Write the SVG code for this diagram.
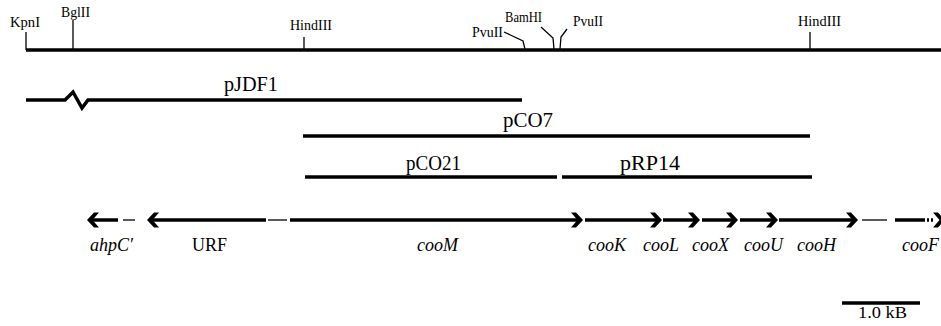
<svg xmlns="http://www.w3.org/2000/svg" width="941" height="326" viewBox="0 0 941 326">
  <defs>
    <style>
      .bar { stroke: #000; stroke-width: 3.5; fill: none; }
      .thin { stroke: #000; stroke-width: 1.3; fill: none; }
      .tick { stroke: #000; stroke-width: 1.3; fill: none; }
      .site { font-family: "Liberation Serif", "Times New Roman", serif; font-size: 14px; fill: #000; }
      .plasmid { font-family: "Liberation Serif", "Times New Roman", serif; font-size: 20px; fill: #000; }
      .gene { font-family: "Liberation Serif", "Times New Roman", serif; font-size: 18px; font-style: italic; fill: #000; }
      .plain { font-family: "Liberation Serif", "Times New Roman", serif; font-size: 18px; fill: #000; }
      .scale { font-family: "Liberation Serif", "Times New Roman", serif; font-size: 17px; fill: #000; }
      .head { fill: #000; stroke: none; }
    </style>
    <!-- bold chevron arrowheads, tip at origin -->
    <path id="headR" class="head" d="M0,0 L-7,-7.5 L-12,-7.5 L-5.5,0 L-12,7.5 L-7,7.5 Z"/>
    <path id="headL" class="head" d="M0,0 L7,-7.5 L12,-7.5 L5.5,0 L12,7.5 L7,7.5 Z"/>
  </defs>
  <rect width="941" height="326" fill="#fff"/>

  <!-- restriction map -->
  <g id="restriction-map">
    <line class="bar" x1="26" y1="50" x2="941" y2="50"/>
    <line class="tick" x1="26" y1="32" x2="26" y2="50"/>
    <line class="tick" x1="73" y1="20" x2="73" y2="50"/>
    <line class="tick" x1="304" y1="37" x2="304" y2="50"/>
    <line class="tick" x1="810" y1="32" x2="810" y2="50"/>
    <polyline class="tick" points="504,32 523,41 525,49"/>
    <polyline class="tick" points="541,27 553,38 554,49"/>
    <polyline class="tick" points="567,29 561,37 560,49"/>
    <text class="site" x="10" y="27" textLength="30" lengthAdjust="spacingAndGlyphs">KpnI</text>
    <text class="site" x="61" y="17" textLength="29" lengthAdjust="spacingAndGlyphs">BglII</text>
    <text class="site" x="290" y="30" textLength="42" lengthAdjust="spacingAndGlyphs">HindIII</text>
    <text class="site" x="472" y="37" textLength="31" lengthAdjust="spacingAndGlyphs">PvuII</text>
    <text class="site" x="505" y="22" textLength="37" lengthAdjust="spacingAndGlyphs">BamHI</text>
    <text class="site" x="573" y="26" textLength="30" lengthAdjust="spacingAndGlyphs">PvuII</text>
    <text class="site" x="798" y="26" textLength="43" lengthAdjust="spacingAndGlyphs">HindIII</text>
  </g>

  <!-- cloned fragments -->
  <g id="pJDF1">
    <polyline class="bar" points="26,100 65,100 73,92 82,108 88,100 522,100"/>
    <text class="plasmid" x="224" y="91" textLength="54" lengthAdjust="spacingAndGlyphs">pJDF1</text>
  </g>
  <g id="pCO7">
    <line class="bar" x1="303" y1="136" x2="810" y2="136"/>
    <text class="plasmid" x="503" y="127" textLength="50" lengthAdjust="spacingAndGlyphs">pCO7</text>
  </g>
  <g id="pCO21">
    <line class="bar" x1="305" y1="177" x2="557" y2="177"/>
    <text class="plasmid" x="406" y="170" textLength="55" lengthAdjust="spacingAndGlyphs">pCO21</text>
  </g>
  <g id="pRP14">
    <line class="bar" x1="562" y1="177" x2="812" y2="177"/>
    <text class="plasmid" x="620" y="170" textLength="60" lengthAdjust="spacingAndGlyphs">pRP14</text>
  </g>

  <!-- genes -->
  <g id="connectors">
    <line class="thin" x1="123" y1="220" x2="135" y2="220"/>
    <line class="thin" x1="268" y1="220" x2="287" y2="220"/>
    <line class="thin" x1="862" y1="220" x2="887" y2="220"/>
  </g>
  <g id="ahpC">
    <line class="bar" x1="92" y1="220" x2="118" y2="220"/>
    <use href="#headL" x="87" y="220"/>
    <text class="gene" x="90" y="251">ahpC′</text>
  </g>
  <g id="URF">
    <line class="bar" x1="152" y1="220" x2="266" y2="220"/>
    <use href="#headL" x="147" y="220"/>
    <text class="plain" x="192" y="251">URF</text>
  </g>
  <g id="cooM">
    <line class="bar" x1="290" y1="220" x2="578" y2="220"/>
    <use href="#headR" x="583" y="220"/>
    <text class="gene" x="417" y="251">cooM</text>
  </g>
  <g id="cooK">
    <line class="bar" x1="585" y1="220" x2="657" y2="220"/>
    <use href="#headR" x="662" y="220"/>
    <text class="gene" x="588" y="251">cooK</text>
  </g>
  <g id="cooL">
    <line class="bar" x1="663" y1="220" x2="695" y2="220"/>
    <use href="#headR" x="700" y="220"/>
    <text class="gene" x="643" y="251">cooL</text>
  </g>
  <g id="cooX">
    <line class="bar" x1="702" y1="220" x2="733" y2="220"/>
    <use href="#headR" x="738" y="220"/>
    <text class="gene" x="692" y="251">cooX</text>
  </g>
  <g id="cooU">
    <line class="bar" x1="740" y1="220" x2="773" y2="220"/>
    <use href="#headR" x="778" y="220"/>
    <text class="gene" x="744" y="251">cooU</text>
  </g>
  <g id="cooH">
    <line class="bar" x1="779" y1="220" x2="853" y2="220"/>
    <use href="#headR" x="858" y="220"/>
    <text class="gene" x="797" y="251">cooH</text>
  </g>
  <g id="cooF">
    <line class="bar" x1="895" y1="220" x2="923" y2="220"/>
    <line class="bar" x1="923" y1="220" x2="934" y2="220" stroke-dasharray="2 2"/>
    <use href="#headR" x="945" y="220"/>
    <text class="gene" x="902" y="251">cooF</text>
  </g>

  <!-- scale bar -->
  <g id="scale-bar">
    <line class="bar" x1="842" y1="303" x2="920" y2="303"/>
    <text class="scale" x="858" y="318" textLength="49" lengthAdjust="spacingAndGlyphs">1.0 kB</text>
  </g>
</svg>
